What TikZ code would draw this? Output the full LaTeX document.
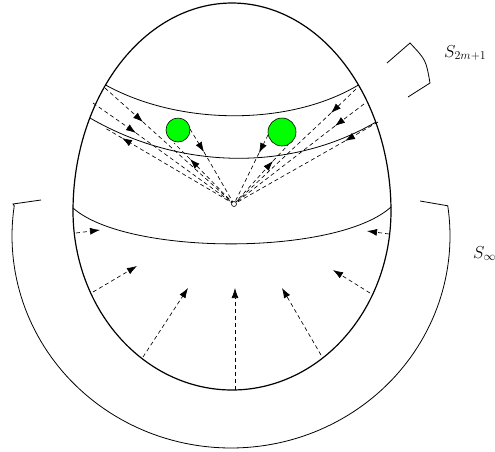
\documentclass[tikz,border=0pt]{standalone}
\usetikzlibrary{arrows.meta}
\begin{document}
\begin{tikzpicture}[x=1pt,y=-1pt,
  eggline/.style={line width=1.2pt},
  bandline/.style={line width=0.8pt},
  rayline/.style={line width=0.65pt, dash pattern=on 4pt off 3pt},
  tip/.style={-{Latex[length=10pt,width=7pt]}},
  ball/.style={circle, draw=black, line width=0.6pt, fill=green, inner sep=0pt},
  lab/.style={anchor=base west, inner sep=0pt, font=\fontsize{17.5}{21}\selectfont}]
\useasboundingbox (0,0) rectangle (495,451);

% egg
\draw[eggline] plot[domain=180:360,samples=120] ({232+159*cos(\x)},{211+208*sin(\x)})
  -- plot[domain=0:180,samples=120] ({232+159*cos(\x)},{211+179*sin(\x)}) -- cycle;

% bands inside the egg
\coordinate (A0) at (105.6,85);  \coordinate (A1) at (358.4,85);
\coordinate (B0) at (90,118);    \coordinate (B1) at (376,122);
\coordinate (C0) at (73,208);    \coordinate (C1) at (391,207);
\draw[bandline] (A0) .. controls (180,126) and (290,126) .. (A1);
\draw[bandline] (B0) .. controls (180,170) and (290,172) .. (B1);
\draw[bandline] (C0) .. controls (127,256) and (337,256) .. (C1);

% outer band S_infinity
\coordinate (Sl0) at (13,204); \coordinate (Sl1) at (41,200);
\coordinate (Sr0) at (448,203); \coordinate (Sr1) at (420,201);
\draw[bandline] (Sl1) -- (Sl0) -- plot[domain=188.2:-8.2,samples=120] ({231+219*cos(\x)},{236+212*sin(\x)}) -- (Sr1);

% small piece S_{2m+1}
\coordinate (T0) at (387,63); \coordinate (T1) at (410,43);
\coordinate (T2) at (430,83); \coordinate (T3) at (408,97);
\draw[bandline] (T0) -- (T1) .. controls (426,60) .. (T2) -- (T3);

% labels
\node[lab] (s2) at (444,57) {$S_{2m+1}$};
\node[lab] (si) at (473,258) {$S_\infty$};

% balls
\node[ball, minimum size=24pt] (g1) at (178,130) {};
\node[ball, minimum size=28pt] (g2) at (282,132) {};

% observer
\coordinate (O) at (234,204);

% rays, upper left
\coordinate (L1s) at (105,88);  \coordinate (L1t) at (143,122);
\coordinate (L2s) at (93,103);  \coordinate (L2t) at (136,133);
\coordinate (L3s) at (105,128); \coordinate (L3t) at (122,138);
\coordinate (L4s) at (190,129); \coordinate (L4t) at (204,152);
\coordinate (L5s) at (174,143); \coordinate (L5t) at (190,159);
% rays, upper right
\coordinate (R1s) at (356,89);  \coordinate (R1t) at (331,113);
\coordinate (R2s) at (364,104); \coordinate (R2t) at (335,126);
\coordinate (R3s) at (378,122); \coordinate (R3t) at (345,141);
\coordinate (R4s) at (268,135); \coordinate (R4t) at (259,153);
\coordinate (R5s) at (288,145); \coordinate (R5t) at (273,161);

% inward rays
\foreach \r in {L1,L2,L4,R1,R2,R3,R4}{
  \draw[rayline,tip] (\r s) -- (\r t);
  \draw[rayline] (\r t) -- (O);
}
% outward rays
\foreach \r in {L3,L5,R5}{
  \draw[rayline,tip] (O) -- (\r t);
  \draw[rayline] (\r t) -- (\r s);
}

% lower arrows
\coordinate (D1s) at (76,233);  \coordinate (D1t) at (100,230);
\coordinate (D2s) at (93,292);  \coordinate (D2t) at (137,266);
\coordinate (D3s) at (143,357); \coordinate (D3t) at (188,288);
\coordinate (D4s) at (235,390); \coordinate (D4t) at (235,288);
\coordinate (D5s) at (321,355); \coordinate (D5t) at (282,288);
\coordinate (D6s) at (370,293); \coordinate (D6t) at (333,270);
\coordinate (D7s) at (389,234); \coordinate (D7t) at (367,231);
\foreach \r in {D1,D2,D3,D4,D5,D6,D7}{
  \draw[rayline,tip] (\r s) -- (\r t);
}

\draw[line width=0.6pt, fill=white] (O) circle[radius=2.5pt];
\end{tikzpicture}
\end{document}
